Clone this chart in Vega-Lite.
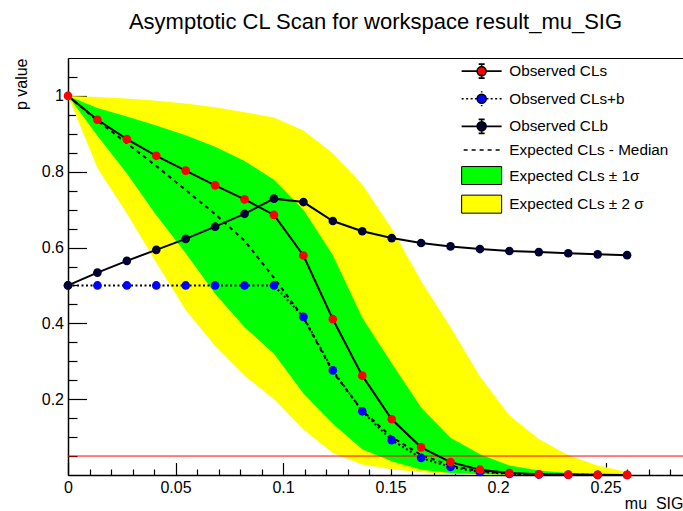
{
  "$schema": "https://vega.github.io/schema/vega-lite/v6.json",
  "width": 615,
  "height": 417,
  "autosize": {"type": "none"},
  "padding": {"left": 68, "top": 58, "right": 0, "bottom": 36},
  "background": "white",
  "title": {"text": "Asymptotic CL Scan for workspace result_mu_SIG", "font": "Liberation Sans", "fontSize": 22, "fontWeight": "normal", "color": "black", "anchor": "middle", "offset": 24},
  "config": {
    "view": {"stroke": "black", "strokeWidth": 1},
    "axis": {"labelFont": "Liberation Sans", "labelFontSize": 16, "labelColor": "black", "titleFont": "Liberation Sans", "titleFontSize": 16, "titleFontWeight": "normal", "titleColor": "black", "domainColor": "black", "domainWidth": 1.5, "tickColor": "black", "tickWidth": 1.2, "grid": false, "labelFlush": false, "labelOverlap": false},
    "legend": {"labelFont": "Liberation Sans", "labelFontSize": 15.3, "labelColor": "black", "labelLimit": 400}
  },
  "data": {"values": [
    {"mu": 0, "cls": 1, "clsb": 0.5, "clb": 0.5, "exp": 1, "m2": 1, "m1": 1, "p1": 1, "p2": 1},
    {"mu": 0.013684, "cls": 0.937, "clsb": 0.5, "clb": 0.534, "exp": 0.935, "m2": 0.81, "m1": 0.895, "p1": 0.968, "p2": 0.997},
    {"mu": 0.027368, "cls": 0.886, "clsb": 0.5, "clb": 0.565, "exp": 0.875, "m2": 0.69, "m1": 0.795, "p1": 0.946, "p2": 0.993},
    {"mu": 0.041053, "cls": 0.842, "clsb": 0.5, "clb": 0.594, "exp": 0.815, "m2": 0.56, "m1": 0.685, "p1": 0.922, "p2": 0.987},
    {"mu": 0.054737, "cls": 0.803, "clsb": 0.5, "clb": 0.623, "exp": 0.752, "m2": 0.435, "m1": 0.585, "p1": 0.896, "p2": 0.98},
    {"mu": 0.068421, "cls": 0.764, "clsb": 0.5, "clb": 0.655, "exp": 0.688, "m2": 0.34, "m1": 0.478, "p1": 0.866, "p2": 0.97},
    {"mu": 0.082105, "cls": 0.727, "clsb": 0.5, "clb": 0.689, "exp": 0.618, "m2": 0.262, "m1": 0.39, "p1": 0.828, "p2": 0.957},
    {"mu": 0.095789, "cls": 0.686, "clsb": 0.5, "clb": 0.729, "exp": 0.52, "m2": 0.2, "m1": 0.32, "p1": 0.779, "p2": 0.943},
    {"mu": 0.109474, "cls": 0.579, "clsb": 0.417, "clb": 0.72, "exp": 0.415, "m2": 0.12, "m1": 0.215, "p1": 0.7, "p2": 0.909},
    {"mu": 0.123158, "cls": 0.411, "clsb": 0.276, "clb": 0.67, "exp": 0.272, "m2": 0.058, "m1": 0.135, "p1": 0.58, "p2": 0.849},
    {"mu": 0.136842, "cls": 0.262, "clsb": 0.168, "clb": 0.643, "exp": 0.17, "m2": 0.028, "m1": 0.068, "p1": 0.415, "p2": 0.766},
    {"mu": 0.150526, "cls": 0.147, "clsb": 0.092, "clb": 0.625, "exp": 0.1, "m2": 0.015, "m1": 0.036, "p1": 0.295, "p2": 0.65},
    {"mu": 0.164211, "cls": 0.073, "clsb": 0.045, "clb": 0.612, "exp": 0.053, "m2": 0.007, "m1": 0.014, "p1": 0.178, "p2": 0.512},
    {"mu": 0.177895, "cls": 0.034, "clsb": 0.021, "clb": 0.603, "exp": 0.025, "m2": 0.003, "m1": 0.005, "p1": 0.098, "p2": 0.39},
    {"mu": 0.191579, "cls": 0.014, "clsb": 0.008, "clb": 0.596, "exp": 0.01, "m2": 0.001, "m1": 0.002, "p1": 0.055, "p2": 0.26},
    {"mu": 0.205263, "cls": 0.005, "clsb": 0.003, "clb": 0.591, "exp": 0.004, "m2": 0.0005, "m1": 0.001, "p1": 0.025, "p2": 0.157},
    {"mu": 0.218947, "cls": 0.002, "clsb": 0.0012, "clb": 0.588, "exp": 0.0015, "m2": 0.0002, "m1": 0.0005, "p1": 0.012, "p2": 0.095},
    {"mu": 0.232632, "cls": 0.001, "clsb": 0.0006, "clb": 0.585, "exp": 0.0006, "m2": 0.0001, "m1": 0.0002, "p1": 0.005, "p2": 0.052},
    {"mu": 0.246316, "cls": 0.0005, "clsb": 0.0003, "clb": 0.582, "exp": 0.0002, "m2": 0, "m1": 0.0001, "p1": 0.002, "p2": 0.025},
    {"mu": 0.26, "cls": 0.0002, "clsb": 0.0001, "clb": 0.58, "exp": 0.0001, "m2": 0, "m1": 0.00005, "p1": 0.001, "p2": 0.008}
  ]},
  "layer": [
    {
      "mark": {"type": "area", "opacity": 1, "interpolate": "linear"},
      "encoding": {
        "x": {"field": "mu", "type": "quantitative", "scale": {"domain": [0, 0.286], "nice": false, "zero": false},
              "axis": {"orient": "bottom", "values": [0, 0.05, 0.1, 0.15, 0.2, 0.25], "format": "~g", "tickSize": -12.5, "labelPadding": 17, "title": "mu\u00a0 SIG", "titleAnchor": "end", "titleAlign": "right", "titlePadding": 0}},
        "y": {"field": "m2", "type": "quantitative", "scale": {"domain": [0, 1.1], "nice": false},
              "axis": {"orient": "left", "values": [0.2, 0.4, 0.6, 0.8, 1], "format": "~g", "tickSize": -18.5, "labelPadding": 23, "title": "p value", "titleAnchor": "end", "titleAlign": "right", "titlePadding": 12}},
        "y2": {"field": "p2"},
        "fill": {"datum": "Expected CLs ± 2 σ", "type": "nominal",
          "scale": {"domain": ["Observed CLs", "Observed CLs+b", "Observed CLb", "Expected CLs - Median", "Expected CLs ± 1σ", "Expected CLs ± 2 σ"],
                    "range": ["#ff0000", "#0000ff", "#000033", "transparent", "#00ff00", "#ffff00"]},
          "legend": {"title": null, "orient": "none", "legendX": 406, "legendY": 5.5, "padding": 0, "rowPadding": 5.6, "labelOffset": 20, "symbolSize": 400,
            "symbolStrokeColor": "black",
            "symbolOpacity": 1,
            "symbolStrokeWidth": {"expr": "datum.value === 'Expected CLs ± 1σ' || datum.value === 'Expected CLs ± 2 σ' ? 1 : 1.6"},
            "symbolType": {"expr": "datum.value === 'Observed CLs' || datum.value === 'Observed CLb' ? 'M-2,0H-0.45M0.45,0H2M0,-0.7V-0.45M0,0.45V0.7M-0.3,-0.7H0.3M-0.3,0.7H0.3M0.45,0A0.45,0.45,0,1,1,-0.45,0A0.45,0.45,0,1,1,0.45,0Z' : datum.value === 'Observed CLs+b' ? 'M-2,0H-1.8M-1.55,0H-1.35M-1.1,0H-0.9M-0.68,0H-0.5M0.5,0H0.68M0.9,0H1.1M1.35,0H1.55M1.8,0H2M0,-0.75V-0.62M0,0.62V0.75M0.45,0A0.45,0.45,0,1,1,-0.45,0A0.45,0.45,0,1,1,0.45,0Z' : datum.value === 'Expected CLs - Median' ? 'M-1.8,0H-1.4M-1,0H-0.6M-0.2,0H0.2M0.6,0H1M1.4,0H1.8' : 'M-2,-0.9H2V0.9H-2Z'"}
          }}
      }
    },
    {
      "mark": {"type": "area", "opacity": 1, "interpolate": "linear"},
      "encoding": {
        "x": {"field": "mu", "type": "quantitative",
              "axis": {"orient": "bottom", "values": [0.01, 0.02, 0.03, 0.04, 0.06, 0.07, 0.08, 0.09, 0.11, 0.12, 0.13, 0.14, 0.16, 0.17, 0.18, 0.19, 0.21, 0.22, 0.23, 0.24, 0.26, 0.27, 0.28], "labels": false, "domain": false, "tickSize": -6, "title": null}},
        "y": {"field": "m1", "type": "quantitative",
              "axis": {"orient": "left", "values": [0.05, 0.1, 0.15, 0.25, 0.3, 0.35, 0.45, 0.5, 0.55, 0.65, 0.7, 0.75, 0.85, 0.9, 0.95, 1.05], "labels": false, "domain": false, "tickSize": -9, "title": null}},
        "y2": {"field": "p1"},
        "fill": {"datum": "Expected CLs ± 1σ", "type": "nominal"}
      }
    },
    {
      "mark": {"type": "line", "color": "black", "strokeWidth": 2, "strokeDash": [4, 4]},
      "encoding": {
        "x": {"field": "mu", "type": "quantitative", "axis": null},
        "y": {"field": "exp", "type": "quantitative", "axis": null}
      }
    },
    {
      "data": {"values": [{"level": 0.05}]},
      "mark": {"type": "rule", "color": "#ff0000", "strokeWidth": 1},
      "encoding": {
        "y": {"field": "level", "type": "quantitative", "axis": null}
      }
    },
    {
      "mark": {"type": "line", "color": "black", "strokeWidth": 2, "strokeDash": [2, 2.5]},
      "encoding": {
        "x": {"field": "mu", "type": "quantitative", "axis": null},
        "y": {"field": "clsb", "type": "quantitative", "axis": null}
      }
    },
    {
      "mark": {"type": "point", "filled": true, "size": 75, "opacity": 1, "strokeWidth": 0},
      "encoding": {
        "x": {"field": "mu", "type": "quantitative", "axis": null},
        "y": {"field": "clsb", "type": "quantitative", "axis": null},
        "fill": {"datum": "Observed CLs+b", "type": "nominal"}
      }
    },
    {
      "mark": {"type": "line", "color": "black", "strokeWidth": 2},
      "encoding": {
        "x": {"field": "mu", "type": "quantitative", "axis": null},
        "y": {"field": "clb", "type": "quantitative", "axis": null}
      }
    },
    {
      "mark": {"type": "point", "filled": true, "size": 75, "opacity": 1, "strokeWidth": 0},
      "encoding": {
        "x": {"field": "mu", "type": "quantitative", "axis": null},
        "y": {"field": "clb", "type": "quantitative", "axis": null},
        "fill": {"datum": "Observed CLb", "type": "nominal"}
      }
    },
    {
      "mark": {"type": "line", "color": "black", "strokeWidth": 2},
      "encoding": {
        "x": {"field": "mu", "type": "quantitative", "axis": null},
        "y": {"field": "cls", "type": "quantitative", "axis": null}
      }
    },
    {
      "mark": {"type": "point", "filled": true, "size": 75, "opacity": 1, "strokeWidth": 0},
      "encoding": {
        "x": {"field": "mu", "type": "quantitative", "axis": null},
        "y": {"field": "cls", "type": "quantitative", "axis": null},
        "fill": {"datum": "Observed CLs", "type": "nominal"}
      }
    }
  ],
  "resolve": {"axis": {"x": "independent", "y": "independent"}}
}
